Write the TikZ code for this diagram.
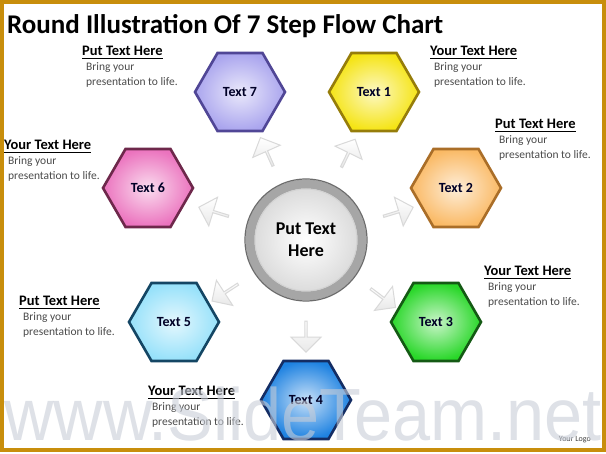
\documentclass[tikz,border=0pt]{standalone}
\usepackage{fontspec}
\setmainfont{Carlito}
\newfontfamily\markfont{Liberation Sans}
\usetikzlibrary{positioning}
\usetikzlibrary{shapes.geometric}
\usetikzlibrary{shapes.arrows}
\definecolor{mgold}{RGB}{200, 142, 12}
\definecolor{mpurple}{RGB}{170, 165, 238}
\definecolor{rpurple}{RGB}{80, 70, 150}
\definecolor{myellow}{RGB}{245, 228, 20}
\definecolor{ryellow}{RGB}{150, 125, 10}
\definecolor{morange}{RGB}{250, 185, 100}
\definecolor{rorange}{RGB}{170, 110, 40}
\definecolor{mgreen}{RGB}{40, 215, 40}
\definecolor{rgreen}{RGB}{20, 90, 20}
\definecolor{mblue}{RGB}{30, 130, 225}
\definecolor{rblue}{RGB}{20, 45, 100}
\definecolor{mcyan}{RGB}{150, 225, 250}
\definecolor{rcyan}{RGB}{20, 70, 100}
\definecolor{mpink}{RGB}{235, 115, 190}
\definecolor{rpink}{RGB}{110, 40, 75}
\definecolor{bodygray}{RGB}{75, 75, 75}
\definecolor{markgray}{RGB}{200, 205, 215}
\tikzset{hexa/.style 2 args = {regular polygon, regular polygon sides = 6, minimum size = 90, inner sep = 0,
    line width = 2.6, draw = #2, inner color = #1!25!white, outer color = #1, text = black!85!blue,
    font = \bfseries\fontsize{14}{16}\selectfont}}
\tikzset{head/.style = {anchor = west, inner sep = 0, text depth = 3, font = \bfseries\fontsize{14.5}{17}\selectfont}}
\tikzset{body/.style = {anchor = north west, inner sep = 0, align = left, text = bodygray,
    font = \fontsize{11.5}{15}\selectfont}}
\tikzset{flow/.style = {single arrow, single arrow head extend = 6, minimum height = 31, minimum width = 30,
    inner sep = 0, draw = gray!30, top color = white, bottom color = gray!18, line width = 1}}
\tikzset{hub/.style = {circle, minimum size = 112, inner sep = 0, align = center, draw = gray!70, line width = 9,
    inner color = white, outer color = gray!30, font = \bfseries\fontsize{18}{22}\selectfont}}

\begin{document}
\begin{tikzpicture}[x = 1pt, y = 1pt]
  \useasboundingbox (0, 0) rectangle (606, 454);
  \fill [white] (0, 0) rectangle (606, 454);
  \draw [mgold, line width = 4] (2, 4) rectangle (604, 452);

  \node [anchor = base west, inner sep = 0, font = \bfseries\fontsize{27}{30}\selectfont] (title)
    at (7, 420) {Round Illustration Of 7 Step Flow Chart};

  % centre
  \node [hub] (hub) at (306, 214) {Put Text\\Here};
  \draw [gray!85!black, line width = 1.2] (hub.center) circle [radius = 61];
  \draw [gray!35, line width = 1] (hub.center) circle [radius = 51];

  % steps
  \node [hexa = {mpurple}{rpurple}] (h7) at (240, 362) {Text 7};
  \node [hexa = {myellow}{ryellow}] (h1) at (374, 362) {Text 1};
  \node [hexa = {morange}{rorange}] (h2) at (456, 266) {Text 2};
  \node [hexa = {mgreen}{rgreen}] (h3) at (436, 132) {Text 3};
  \node [hexa = {mblue}{rblue}] (h4) at (306, 54) {Text 4};
  \node [hexa = {mcyan}{rcyan}] (h5) at (174, 132) {Text 5};
  \node [hexa = {mpink}{rpink}] (h6) at (148, 266) {Text 6};

  \foreach \ang/\n in {114/7, 64/1, 17/2, -37/3, -90/4, -147/5, 163/6} {
    \node [flow, rotate = \ang] (arr\n) at ([shift = {(\ang:96)}] hub.center) {};
  }

  % text blocks
  \node [head] (t7) at (82, 402) {Put Text Here};
  \node [head] (t1) at (430, 402) {Your Text Here};
  \node [head] (t2) at (495, 329) {Put Text Here};
  \node [head] (t6) at (4, 308) {Your Text Here};
  \node [head] (t3) at (484, 182) {Your Text Here};
  \node [head] (t5) at (19, 152) {Put Text Here};
  \node [head] (t4) at (148, 62) {Your Text Here};
  \foreach \n in {7, 1, 2, 6, 3, 5, 4} {
    \draw [line width = 1.1] (t\n.south west) -- (t\n.south east);
    \node [body, below = 4 of t\n.south west, anchor = north west, xshift = 4] (b\n)
      {Bring your\\presentation to life.};
  }

  \node [anchor = base east, inner sep = 0, text = black!75, font = \fontsize{8}{9}\selectfont] (logo)
    at (591, 12) {Your Logo};
  \node [anchor = base west, inner sep = 0, text = markgray, opacity = 0.6, xscale = 0.925,
    font = \markfont\fontsize{74}{78}\selectfont] (mark) at (4, 13) {www.SlideTeam.net};
\end{tikzpicture}
\end{document}
